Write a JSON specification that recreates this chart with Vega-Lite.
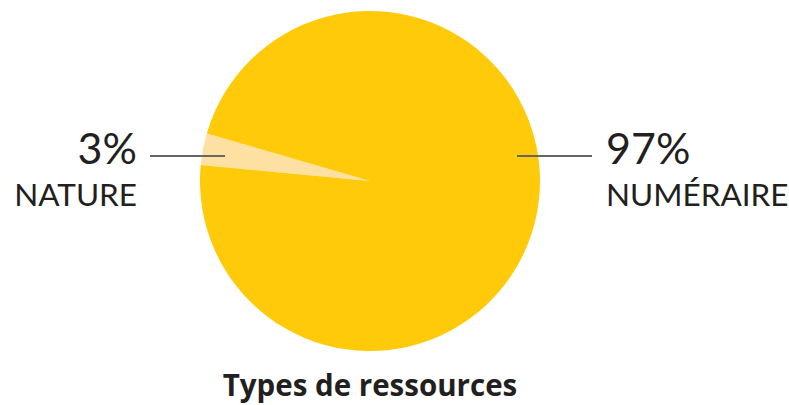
{
  "$schema": "https://vega.github.io/schema/vega-lite/v6.json",
  "width": 740,
  "height": 362,
  "autosize": "none",
  "padding": {"left": 0, "top": 0, "right": 49, "bottom": 43},
  "background": "white",
  "view": {"stroke": null},
  "config": {"font": "Lato"},
  "data": {"values": [
    {"type": "NATURE", "share": 0.03},
    {"type": "NUMÉRAIRE", "share": 0.97}
  ]},
  "layer": [
    {
      "mark": {"type": "arc", "outerRadius": 170},
      "encoding": {
        "theta": {"field": "share", "type": "quantitative", "stack": true, "scale": {"range": [4.807, 11.090]}},
        "color": {"field": "type", "type": "nominal", "scale": {"domain": ["NATURE", "NUMÉRAIRE"], "range": ["#FFE0A3", "#FFCA0A"]}, "legend": null},
        "order": {"field": "type", "sort": "ascending"}
      }
    },
    {
      "transform": [{"filter": "datum.type === 'NATURE'"}],
      "layer": [
        {"mark": {"type": "rule", "stroke": "#666666", "strokeWidth": 2},
         "encoding": {"x": {"value": 150}, "x2": {"value": 225}, "y": {"value": 156}}},
        {"mark": {"type": "text", "x": 137, "y": 164, "align": "right", "baseline": "alphabetic", "fontSize": 43, "color": "#231f20"},
         "encoding": {"text": {"field": "share", "type": "quantitative", "format": ".0%"}}},
        {"mark": {"type": "text", "x": 137, "y": 206, "align": "right", "baseline": "alphabetic", "fontSize": 31.5, "color": "#231f20"},
         "encoding": {"text": {"field": "type", "type": "nominal"}}}
      ]
    },
    {
      "transform": [{"filter": "datum.type === 'NUMÉRAIRE'"}],
      "layer": [
        {"mark": {"type": "rule", "stroke": "#666666", "strokeWidth": 2},
         "encoding": {"x": {"value": 517}, "x2": {"value": 592}, "y": {"value": 156}}},
        {"mark": {"type": "text", "x": 606, "y": 164, "align": "left", "baseline": "alphabetic", "fontSize": 43, "color": "#231f20"},
         "encoding": {"text": {"field": "share", "type": "quantitative", "format": ".0%"}}},
        {"mark": {"type": "text", "x": 606, "y": 206, "align": "left", "baseline": "alphabetic", "fontSize": 31.5, "color": "#231f20"},
         "encoding": {"text": {"field": "type", "type": "nominal"}}}
      ]
    },
    {
      "transform": [{"filter": "datum.type === 'NATURE'"}],
      "mark": {"type": "text", "x": 370, "y": 396, "align": "center", "baseline": "alphabetic", "fontSize": 29.5, "fontWeight": "bold", "font": "Open Sans", "color": "#231f20", "text": "Types de ressources"},
      "encoding": {}
    }
  ]
}
